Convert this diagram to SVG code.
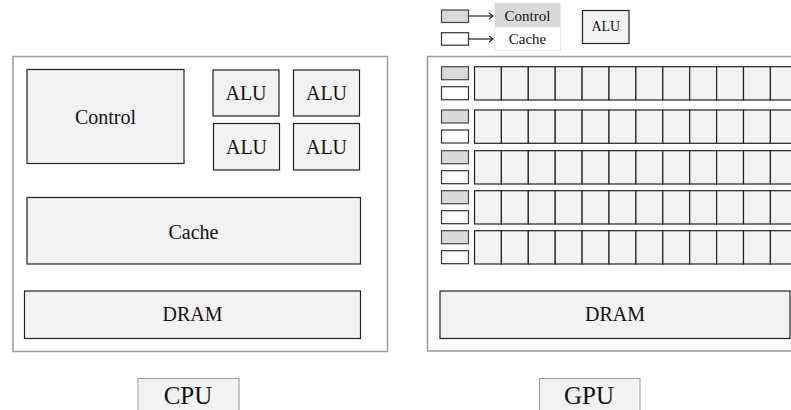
<svg xmlns="http://www.w3.org/2000/svg" width="791" height="410" viewBox="0 0 791 410">
<style>
.outer{fill:#ffffff;stroke:#999999;stroke-width:1.5}
.box{fill:#f2f2f2;stroke:#222222;stroke-width:1.2}
.cell{fill:#f2f2f2;stroke:#222222;stroke-width:1.2}
.ctl{fill:#d9d9d9;stroke:#444444;stroke-width:1.2}
.cch{fill:#ffffff;stroke:#333333;stroke-width:1.2}
text{font-family:'Liberation Serif','DejaVu Serif',serif;font-size:20px;fill:#111111;text-anchor:middle}
.big{font-size:25px}
.lg{font-size:15px}
.sm{font-size:14px}
.arrow{stroke:#222222;stroke-width:1.2;fill:none}
</style>
<defs>
<marker id="chev" markerWidth="8" markerHeight="8" refX="6" refY="4" orient="auto" markerUnits="userSpaceOnUse">
<polyline points="2,1 6,4 2,7" fill="none" stroke="#222222" stroke-width="1.1"/>
</marker>
<g id="gpurow">
<rect class="ctl" x="441.5" y="0" width="27" height="13"/>
<rect class="cch" x="441.5" y="20" width="27" height="13"/>
<rect class="cell" x="474.5" y="0" width="26.9" height="33.3"/>
<rect class="cell" x="501.4" y="0" width="26.9" height="33.3"/>
<rect class="cell" x="528.3" y="0" width="26.9" height="33.3"/>
<rect class="cell" x="555.2" y="0" width="26.9" height="33.3"/>
<rect class="cell" x="582.1" y="0" width="26.9" height="33.3"/>
<rect class="cell" x="609.0" y="0" width="26.9" height="33.3"/>
<rect class="cell" x="635.9" y="0" width="26.9" height="33.3"/>
<rect class="cell" x="662.8" y="0" width="26.9" height="33.3"/>
<rect class="cell" x="689.7" y="0" width="26.9" height="33.3"/>
<rect class="cell" x="716.6" y="0" width="26.9" height="33.3"/>
<rect class="cell" x="743.5" y="0" width="26.9" height="33.3"/>
<rect class="cell" x="770.4" y="0" width="26.9" height="33.3"/>
</g>
</defs>

<g id="cpu">
<rect class="outer" x="13" y="56.5" width="374.5" height="295"/>
</g>
<g id="cpu-control">
<rect class="box" x="27" y="69.5" width="157" height="94"/>
<text font-family="Liberation Serif, serif" x="105.5" y="124">Control</text>
</g>
<g id="cpu-alu1">
<rect class="box" x="213" y="70" width="66" height="46"/>
<text font-family="Liberation Serif, serif" x="246" y="100">ALU</text>
</g>
<g id="cpu-alu2">
<rect class="box" x="293.5" y="70" width="66" height="46"/>
<text font-family="Liberation Serif, serif" x="326.5" y="100">ALU</text>
</g>
<g id="cpu-alu3">
<rect class="box" x="213.5" y="123.5" width="66" height="46.5"/>
<text font-family="Liberation Serif, serif" x="246.5" y="154">ALU</text>
</g>
<g id="cpu-alu4">
<rect class="box" x="293.5" y="123.5" width="66" height="46.5"/>
<text font-family="Liberation Serif, serif" x="326.5" y="154">ALU</text>
</g>
<g id="cpu-cache">
<rect class="box" x="27" y="197.5" width="333.5" height="66.5"/>
<text font-family="Liberation Serif, serif" x="193.5" y="238.5">Cache</text>
</g>
<g id="cpu-dram">
<rect class="box" x="24.5" y="291" width="336" height="47.5"/>
<text font-family="Liberation Serif, serif" x="192.5" y="321">DRAM</text>
</g>
<g id="cpu-label">
<rect fill="#f2f2f2" stroke="#999999" stroke-width="1" x="138" y="378.5" width="101" height="40"/>
<text class="big" font-family="Liberation Serif, serif" x="188" y="403.5">CPU</text>
</g>

<g id="gpu">
<rect class="outer" x="427.5" y="56.5" width="400" height="294.5"/>
</g>
<g id="gpu-row1"><use href="#gpurow" transform="translate(0,66.7)"/></g>
<g id="gpu-row2"><use href="#gpurow" transform="translate(0,110)"/></g>
<g id="gpu-row3"><use href="#gpurow" transform="translate(0,150.7)"/></g>
<g id="gpu-row4"><use href="#gpurow" transform="translate(0,190.7)"/></g>
<g id="gpu-row5"><use href="#gpurow" transform="translate(0,230.7)"/></g>
<g id="gpu-dram">
<rect class="box" x="440" y="291" width="350" height="47.5"/>
<text font-family="Liberation Serif, serif" x="615" y="321">DRAM</text>
</g>
<g id="gpu-label">
<rect fill="#f2f2f2" stroke="#999999" stroke-width="1" x="539.5" y="378.5" width="100.5" height="40"/>
<text class="big" font-family="Liberation Serif, serif" x="589" y="403.5">GPU</text>
</g>

<g id="legend-control-key"><rect class="ctl" x="441.5" y="10" width="27" height="12.5"/></g>
<g id="legend-cache-key"><rect class="cch" x="441.5" y="32.7" width="27" height="12.5"/></g>
<g id="legend-control">
<rect fill="#d9d9d9" x="494.5" y="3" width="66" height="24"/>
<text class="lg" font-family="Liberation Serif, serif" x="527.5" y="20.5">Control</text>
</g>
<g id="legend-cache">
<rect fill="#ffffff" stroke="#e8e8e8" stroke-width="1" x="494.5" y="27" width="66" height="23.5"/>
<text class="lg" font-family="Liberation Serif, serif" x="527.5" y="44">Cache</text>
</g>
<g id="legend-alu">
<rect class="box" x="582.5" y="10.5" width="46.5" height="33"/>
<text class="sm" font-family="Liberation Serif, serif" x="605.8" y="31">ALU</text>
</g>

<g id="connectors">
<line class="arrow" x1="468.5" y1="16" x2="493" y2="16" marker-end="url(#chev)"/>
<line class="arrow" x1="468.5" y1="39" x2="493" y2="39" marker-end="url(#chev)"/>
</g>
</svg>
